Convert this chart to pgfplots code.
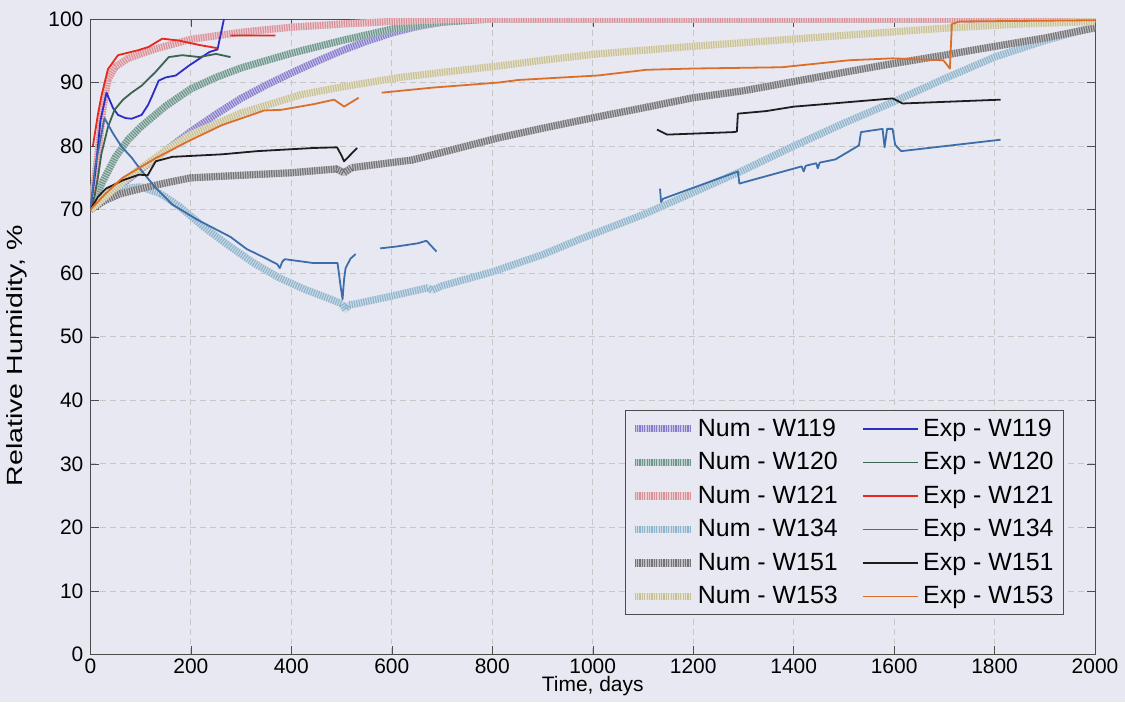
\documentclass[border=0pt]{standalone}
\usepackage{graphicx}
\usepackage{pgfplots}
\pgfplotsset{compat=1.18}
\usepackage{fontspec}
\setmainfont{Liberation Sans}
\usetikzlibrary{backgrounds}

\definecolor{paper}{RGB}{232,232,242}
\definecolor{numA}{RGB}{135,125,205}
\definecolor{numB}{RGB}{110,150,140}
\definecolor{numC}{RGB}{215,145,155}
\definecolor{numD}{RGB}{145,180,205}
\definecolor{numE}{RGB}{115,115,120}
\definecolor{numF}{RGB}{200,192,150}
\definecolor{expA}{RGB}{45,45,200}
\definecolor{expB}{RGB}{60,100,80}
\definecolor{expC}{RGB}{230,40,30}
\definecolor{expD}{RGB}{60,110,170}
\definecolor{expE}{RGB}{30,30,30}
\definecolor{expF}{RGB}{220,110,40}

\tikzset{numband/.style={color=#1, line width=3.6pt, dash pattern=on 0.6pt off 0.6pt,
    preaction={draw=#1!45!white, line width=3.6pt, solid}},
  expline/.style={color=#1, line width=0.9pt}}

\begin{document}
\begin{tikzpicture}[show background rectangle,
    background rectangle/.style={fill=paper, draw=none}, inner frame sep=0pt]
\begin{axis}[
    name=ax,
    scale only axis,
    width=503.5pt, height=318.5pt,
    xmin=0, xmax=2000, ymin=0, ymax=100,
    xtick={0,200,...,2000}, ytick={0,10,...,100},
    grid=major,
    major grid style={densely dashed, gray!45, line width=0.4pt},
    axis line style={black!70}, tick style={black!70},
    tick label style={font=\fontsize{10.5}{12}\selectfont},
    xticklabel style={yshift=1.5pt},
    label style={font=\fontsize{10.5}{12}\selectfont},
    xlabel style={yshift=5.5pt},
    ylabel style={font=\fontsize{11}{13}\selectfont, at={(ticklabel cs:0.47)}},
    ylabel shift=3.8pt,
    /pgf/number format/assume math mode=true,
    /pgf/number format/1000 sep={},
    xlabel={Time, days},
    ylabel={\scalebox{1.3}[1]{Relative Humidity, \%}},
    unbounded coords=jump,
    legend columns=2,
    legend cell align=left,
    legend image code/.code={\draw[#1] (0cm,0cm) -- (0.98cm,0cm);},
    legend style={at={(rel axis cs:0.969,0.062)}, anchor=south east,
        font=\fontsize{12.5}{15}\selectfont, draw=black!70, fill=paper,
        row sep=2.6pt,
        /tikz/column 2/.style={column sep=10pt}},
    every axis plot/.append style={line join=round, sharp plot},
  ]

% numerical results (hatched bands)
\addplot[numband=numA, forget plot] coordinates {
  (0,70)(50,73.2)(100,76.3)(150,79.3)(200,82.3)(250,85)(300,87.5)(350,89.6)
  (400,91.5)(450,93.3)(500,95)(550,96.5)(600,97.8)(650,98.8)(700,99.5)(750,99.9)
  (800,100)(2000,100)};
\addplot[numband=numB, forget plot] coordinates {
  (0,70)(25,74.5)(50,78.3)(75,81)(100,83)(150,86.3)(200,89)(250,90.8)(300,92.3)
  (400,94.6)(500,96.6)(600,98.4)(700,99.5)(800,100)(2000,100)};
\addplot[numband=numC, forget plot] coordinates {
  (0,70)(8,74)(15,78.8)(25,86)(35,90.5)(50,92.5)(75,93.8)(100,94.5)(130,95.3)
  (200,96.8)(300,97.9)(400,98.7)(500,99.2)(600,99.6)(700,99.9)(800,100)(2000,100)};
\addplot[numband=numD, forget plot] coordinates {
  (0,70)(30,72)(60,73.2)(100,73.6)(140,72.5)(177,70.5)(225,67.3)(276,64.3)
  (325,61.6)(375,59.3)(425,57.5)(475,56)(500,55.2)(508,54.3)(515,55)(530,55.2)
  (600,56.4)(672,57.7)(680,57.3)(700,58)(800,60.2)(900,62.9)(973,65.3)
  (1100,69.2)(1200,72.7)(1300,76.2)(1400,80)(1500,83.6)(1600,87)(1700,90.6)
  (1800,94)(1900,96.6)(2000,98.8)};
\addplot[numband=numE, forget plot] coordinates {
  (0,70)(30,71.5)(60,72.5)(100,73.3)(150,74.2)(200,75)(300,75.4)(400,75.8)
  (490,76.4)(505,75.8)(520,76.6)(640,77.8)(700,79)(813,81.3)(900,82.8)
  (1010,84.6)(1100,86)(1200,87.6)(1300,88.7)(1376,89.8)(1500,91.6)(1577,92.7)
  (1700,94.3)(1779,95.4)(1900,97)(2000,98.6)};
\addplot[numband=numF, forget plot] coordinates {
  (0,70)(50,73.5)(100,76.5)(150,79.3)(200,81.8)(300,85.2)(420,88.1)(500,89.3)
  (616,90.8)(700,91.6)(813,92.6)(900,93.5)(1010,94.5)(1200,95.7)(1376,96.7)
  (1550,97.7)(1711,98.6)(1850,99.2)(2000,99.6)};

% experimental results
\addplot[expline=expA, forget plot] coordinates {
  (0,70)(10,76)(20,84)(32,88.4)(45,86)(55,84.9)(70,84.4)(82,84.3)(102,84.9)
  (115,86.5)(123,87.9)(136,90.3)(150,90.8)(170,91.1)(197,92.7)(237,94.8)
  (253,95.2)(266,100)};
\addplot[expline=expB, forget plot] coordinates {
  (0,70)(8,72)(15,75.1)(22,78.8)(35,83)(48,85.7)(65,87.3)(82,88.4)(102,89.5)
  (129,91.6)(156,94)(183,94.3)(217,94)(250,94.5)(279,94)};
\addplot[expline=expC, forget plot] coordinates {
  (5,80)(8,81.5)(15,85)(22,87.9)(35,92.1)(55,94.3)(96,95.1)(116,95.6)(143,96.9)
  (176,96.6)(217,95.9)(253,95.4)(266,nan)(279,97.4)(368,97.4)};
\addplot[expline=expD, forget plot] coordinates {
  (0,70)(10,77)(28,84.4)(45,82)(62,79.9)(82,78.2)(96,76.7)(129,73.5)(163,70.8)
  (213,68.4)(279,65.7)(311,63.8)(350,62.3)(372,61.4)(377,60.8)(382,61.8)
  (387,62.2)(443,61.6)(492,61.6)(498,58)(502,55.9)(505,59)(508,60.8)(518,62.3)
  (528,63)(550,nan)
  (577,63.9)(610,64.2)(652,64.7)(669,65.1)(689,63.4)(900,nan)
  (1134,73.3)(1136,71.2)(1140,71.7)(1289,76)(1292,74.1)(1416,76.8)(1420,76)
  (1424,76.9)(1445,77.3)(1448,76.5)(1452,77.4)(1483,77.9)(1530,80.1)(1534,82.2)
  (1577,82.7)(1581,79.8)(1586,82.7)(1597,82.7)(1602,80.2)(1614,79.2)(1812,81)};
\addplot[expline=expE, forget plot] coordinates {
  (0,70)(15,72)(31,73.3)(64,74.6)(97,75.5)(114,75.4)(130,77.6)(163,78.3)
  (262,78.7)(332,79.2)(445,79.7)(491,79.8)(500,78.5)(505,77.6)(531,79.7)
  (800,nan)
  (1128,82.6)(1148,81.8)(1282,82.2)(1287,82.3)(1289,85.1)(1345,85.5)(1400,86.2)
  (1477,86.7)(1597,87.5)(1617,86.7)(1812,87.3)};
\addplot[expline=expF, forget plot] coordinates {
  (0,70)(30,72.5)(64,75)(130,78.1)(196,80.8)(262,83.3)(346,85.6)(380,85.7)
  (445,86.6)(485,87.3)(500,86.5)(505,86.2)(534,87.6)(557,nan)
  (580,88.4)(682,89.2)(813,90)(852,90.4)(1010,91.1)(1107,92)(1200,92.2)
  (1376,92.4)(1510,93.5)(1597,93.8)(1698,93.5)(1711,92.2)(1715,99.2)(1730,99.6)
  (2000,99.8)};

% legend, in the order of the reference
\addlegendimage{numband=numA}\addlegendentry{Num - W119}
\addlegendimage{expline=expA}\addlegendentry{Exp - W119}
\addlegendimage{numband=numB}\addlegendentry{Num - W120}
\addlegendimage{expline=expB}\addlegendentry{Exp - W120}
\addlegendimage{numband=numC}\addlegendentry{Num - W121}
\addlegendimage{expline=expC}\addlegendentry{Exp - W121}
\addlegendimage{numband=numD}\addlegendentry{Num - W134}
\addlegendimage{expline=expD}\addlegendentry{Exp - W134}
\addlegendimage{numband=numE}\addlegendentry{Num - W151}
\addlegendimage{expline=expE}\addlegendentry{Exp - W151}
\addlegendimage{numband=numF}\addlegendentry{Num - W153}
\addlegendimage{expline=expF}\addlegendentry{Exp - W153}
\end{axis}
% room above the frame, as in the reference
\path (ax.north) ++(0,9.5pt);
\end{tikzpicture}
\end{document}
